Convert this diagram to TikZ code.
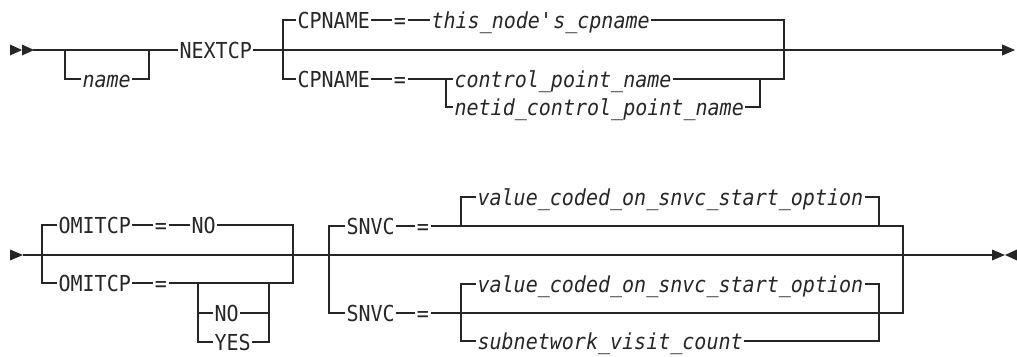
\documentclass[tikz,border=0pt]{standalone}
\usepackage{fontspec}
\usepackage{tikz}
\usetikzlibrary{arrows.meta,positioning,calc}
\newfontfamily\rrfont{DejaVu Sans Mono}[FakeStretch=0.91, ItalicFont={DejaVu Sans Mono Oblique}]
\colorlet{rail}{black!85}

\begin{document}
\begin{tikzpicture}[
			x=1pt, y=-1pt,
			line width=1.1pt, draw=rail,
			kw/.style={font=\rrfont\fontsize{22}{26}\selectfont, text=rail, inner xsep=1pt, inner ysep=0pt, text height=17pt, text depth=1pt, anchor=west},
			var/.style={kw, font=\rrfont\itshape\fontsize{22}{26}\selectfont},
			eq/.style={kw, anchor=center},
			marker/.style={fill=rail, draw=none}
			]
			\useasboundingbox (0,0) rectangle (1017,356);
			
			% First line
			\coordinate (S1) at (33,50);
			\coordinate (A1) at (65,50);
			\coordinate (B1) at (149,50);
			\coordinate (C1) at (283,50);
			\coordinate (D1) at (784,50);
			\coordinate (G1) at (446,79);
			\coordinate (H1) at (760,79);
			\coordinate (E1) at (1015,50);
			
			\node[var] (Name) at (81,79) {name};
			\node[kw] (NextCP) at (178,50) {NEXTCP};
			\node[kw] (CP1) at (296,20) {CPNAME};
			\node[eq] (Eq1) at (400,20) {=};
			\node[var] (This) at (430,20) {this\_node\textquotesingle s\_cpname};
			\node[kw] (CP2) at (296,79) {CPNAME};
			\node[eq] (Eq2) at (400,79) {=};
			\node[var] (Ctl) at (453,79) {control\_point\_name};
			\node[var] (Netid) at (453,107) {netid\_control\_point\_name};
			
			\fill[marker] (10,44.5) -- (22,50) -- (10,55.5) -- cycle;
			\fill[marker] (22,44.5) -- (34,50) -- (22,55.5) -- cycle;
			
			\draw (S1) -- (NextCP.west);
			\draw (A1) |- (Name.west);
			\draw (Name.east) -| (B1);
			\draw[-{Triangle[length=13pt,width=11pt]}] (NextCP.east) -- (E1);
			
			\draw (C1) |- (CP1.west);
			\draw (CP1.east) -- (Eq1.west);
			\draw (Eq1.east) -- (This.west);
			\draw (This.east) -| (D1);
			
			\draw (C1) |- (CP2.west);
			\draw (CP2.east) -- (Eq2.west);
			\draw (Eq2.east) -- (G1) -- (Ctl.west);
			\draw (G1) |- (Netid.west);
			\draw (Ctl.east) -| (D1);
			\draw (Netid.east) -| (H1);
			
			% Second line
			\coordinate (S2) at (23,255);
			\coordinate (A2) at (42,255);
			\coordinate (B2) at (293,255);
			\coordinate (C2) at (329,255);
			\coordinate (D2) at (903,255);
			\coordinate (E2) at (993,255);
			\coordinate (G2) at (198,283);
			\coordinate (H2) at (269,283);
			\coordinate (G3) at (461,226);
			\coordinate (H3) at (879,226);
			\coordinate (G4) at (461,313);
			\coordinate (H4) at (879,313);
			
			\node[kw] (Om1) at (57,225) {OMITCP};
			\node[eq] (Eq3) at (161,225) {=};
			\node[kw] (No1) at (190,225) {NO};
			\node[kw] (Om2) at (57,283) {OMITCP};
			\node[eq] (Eq4) at (161,283) {=};
			\node[kw] (No2) at (213,313) {NO};
			\node[kw] (Yes) at (213,342) {YES};
			\node[kw] (Sn1) at (345,226) {SNVC};
			\node[eq] (Eq5) at (423,226) {=};
			\node[var] (Val1) at (476,197) {value\_coded\_on\_snvc\_start\_option};
			\node[kw] (Sn2) at (345,313) {SNVC};
			\node[eq] (Eq6) at (423,313) {=};
			\node[var] (Val2) at (476,284) {value\_coded\_on\_snvc\_start\_option};
			\node[var] (Sub) at (476,341) {subnetwork\_visit\_count};
			
			\fill[marker] (10,249.5) -- (23,255) -- (10,260.5) -- cycle;
			\fill[marker] (992,249.5) -- (1005,255) -- (992,260.5) -- cycle;
			\fill[marker] (1017,249.5) -- (1005,255) -- (1017,260.5) -- cycle;
			
			\draw (S2) -- (E2);
			
			\draw (A2) |- (Om1.west);
			\draw (Om1.east) -- (Eq3.west);
			\draw (Eq3.east) -- (No1.west);
			\draw (No1.east) -| (B2);
			\draw (A2) |- (Om2.west);
			\draw (Om2.east) -- (Eq4.west);
			\draw (Eq4.east) -| (B2);
			\draw (G2) |- (No2.west);
			\draw (G2) |- (Yes.west);
			\draw (No2.east) -| (H2);
			\draw (Yes.east) -| (H2);
			
			\draw (C2) |- (Sn1.west);
			\draw (Sn1.east) -- (Eq5.west);
			\draw (Eq5.east) -| (D2);
			\draw (G3) |- (Val1.west);
			\draw (Val1.east) -| (H3);
			
			\draw (C2) |- (Sn2.west);
			\draw (Sn2.east) -- (Eq6.west);
			\draw (Eq6.east) -| (D2);
			\draw (G4) |- (Val2.west);
			\draw (G4) |- (Sub.west);
			\draw (Val2.east) -| (H4);
			\draw (Sub.east) -| (H4);
			
		\end{tikzpicture}
\end{document}
